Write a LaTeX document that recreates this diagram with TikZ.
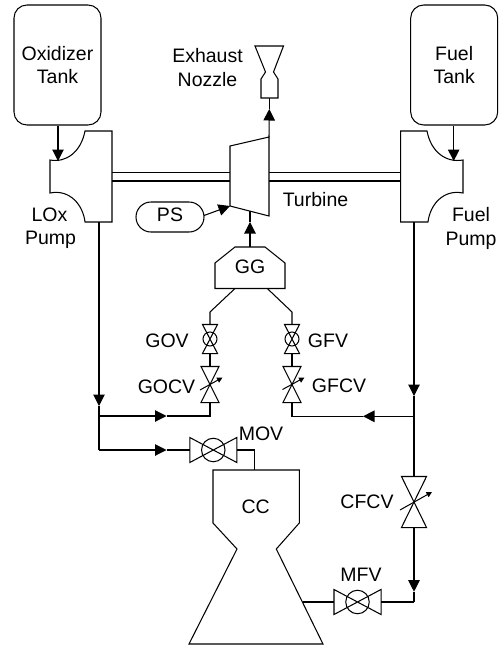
\documentclass[tikz,border=0pt]{standalone}
\usepackage{fontspec}
\setmainfont{Liberation Sans}
\usetikzlibrary{arrows.meta,shapes.misc}
\tikzset{
  x=1pt,y=-1pt,
  every path/.style={line width=1.05pt,line join=miter},
  lbl/.style={anchor=base,inner sep=0pt,font=\fontsize{19.5}{23}\selectfont},
  tank/.style={draw,rounded corners=13pt,minimum width=87pt,minimum height=120pt,inner sep=0pt,align=center,font=\fontsize{19.5}{22.7}\selectfont},
  flow/.style={-{Triangle[length=11.5pt,width=11.5pt]}},
  smallflow/.style={-{Triangle[length=5.5pt,width=5.5pt]},line width=1pt},
  bigvalve/.style={minimum width=46pt,minimum height=24pt,inner sep=0pt},
  gvalve/.style={minimum width=14pt,minimum height=28pt,inner sep=0pt},
  cvvalve/.style={minimum width=17pt,minimum height=35pt,inner sep=0pt},
  cfvalve/.style={minimum width=24pt,minimum height=50pt,inner sep=0pt},
  ball/.style={draw,circle,inner sep=0pt},
}
\begin{document}
\begin{tikzpicture}
\useasboundingbox (0,0) rectangle (503,646);
% tanks
\node[tank] (ox) at (57.5,65) {Oxidizer\\Tank};
\node[tank] (fu) at (454.2,65) {Fuel\\Tank};
% pumps
\coordinate (loxin) at (58,161);
\coordinate (fuin) at (453.7,161);
\draw (85,131) -- (112,131) -- (112,222) coordinate (loxbr) -- (85,222)
  .. controls (83,205) and (70,189) .. (50,193) -- (50,160)
  .. controls (66,163) and (81,152) .. (85,131) -- cycle;
\draw (427,131) -- (400.7,131) -- (400.7,222) -- (428,222)
  .. controls (430,205) and (443,189) .. (463,193) -- (463,160)
  .. controls (446,163) and (431,152) .. (427,131) -- cycle;
\draw[flow] (ox.south -| loxin) -- (loxin);
\draw[flow] (fu.south -| fuin) -- (fuin);
% turbine
\coordinate (ttl) at (230,146);
\coordinate (ttr) at (269,137);
\coordinate (tbr) at (269,216);
\coordinate (tbl) at (230,206);
\draw (ttl) -- (ttr) -- (tbr) -- (tbl) -- cycle;
\draw (112,172.5) -- (230,172.5);
\draw (112,181) -- (230,181);
\draw (269,172.5) -- (400.7,172.5);
\draw (269,181) -- (400.7,181);
% nozzle
\draw (255,46) -- (283.5,46) -- (273.5,72) -- (278,79) -- (278,98) coordinate (nbr) -- (261,98) -- (261,79) -- (265.5,72) -- cycle;
\coordinate (nb) at (269.3,98);
\coordinate (ntip) at (269.3,109);
\draw[flow] (ttr) -- (ntip);
\draw (ntip) -- (nb);
% PS
\node[draw,rounded rectangle,minimum width=68pt,minimum height=30pt,inner sep=0pt] (ps) at (170,217) {};
\coordinate (pstart) at (204,215.5);
\draw[flow] (pstart) -- (tbl);
% GG
\coordinate (gtl) at (235,247);
\coordinate (gtr) at (265,247);
\coordinate (gbl) at (235,288.5);
\coordinate (gbr) at (267.3,288.5);
\coordinate (gt) at (250,247);
\coordinate (gtip) at (250,222);
\coordinate (tb) at (250,211);
\draw (gtl) -- (gtr) -- (285,263) -- (285,288.5) -- (215,288.5) -- (215,263) -- cycle;
\draw[flow] (gt) -- (gtip);
\draw (gtip) -- (tb);
% GG valves
\node[gvalve] (gov) at (210,339) {};
\node[gvalve] (gfv) at (292,339) {};
\node[cvvalve] (gocv) at (210,384.5) {};
\node[cvvalve] (gfcv) at (292,384.5) {};
\foreach \v in {gov,gfv,gocv,gfcv}{
  \draw (\v.north west) -- (\v.north east) -- (\v.south west) -- (\v.south east) -- cycle;
}
\node[ball,minimum size=14pt] at (gov) {};
\node[ball,minimum size=14pt] at (gfv) {};
\draw[smallflow] (200,390) -- (222.5,377.5);
\draw[smallflow] (282.5,389.5) -- (304.5,377.5);
\draw (gbl) -- (gov.north |- 0,312) -- (gov.north);
\draw (gbr) -- (gfv.north |- 0,312) -- (gfv.north);
\draw (gov.south) -- (gocv.north);
\draw (gfv.south) -- (gfcv.north);
% oxidiser line
\coordinate (lo) at (99,222);
\coordinate (lotip) at (99,406);
\coordinate (lob) at (99,416);
\coordinate (lobot) at (99,450);
\coordinate (lar) at (166.5,416);
\coordinate (lgo) at (210,416);
\coordinate (mar) at (166.5,450);
\draw[flow] (lo) -- (lotip);
\draw (lotip) -- (lobot);
\draw[flow] (lob) -- (lar);
\draw (lar) -- (lgo) -- (gocv.south);
\draw[flow] (lobot) -- (mar);
% MOV
\node[bigvalve] (mov) at (213.3,450) {};
\draw (mov.north west) -- (mov.south east) -- (mov.north east) -- (mov.south west) -- cycle;
\node[ball,minimum size=23.5pt] at (mov) {};
\draw (mar) -- (mov.west);
% CC
\draw (213,470) -- (299.3,470) -- (299.3,523) -- (276.3,549) -- (323,644) -- (189,644) -- (237,549) -- (213,523) -- cycle;
\coordinate (cct) at (254.5,470);
\draw (mov.east) -- (cct |- mov.east) -- (cct);
% fuel line
\coordinate (fl) at (414,222);
\coordinate (fltip) at (414,396);
\coordinate (flb) at (414,416.3);
\coordinate (fbr) at (363,416.3);
\coordinate (fgo) at (292,416.3);
\node[cfvalve] (cfcv) at (414,502) {};
\draw (cfcv.north west) -- (cfcv.north east) -- (cfcv.south west) -- (cfcv.south east) -- cycle;
\draw[smallflow] (400,510) -- (432,492);
\draw[flow] (fl) -- (fltip);
\draw (fltip) -- (cfcv.north);
\draw[flow] (flb) -- (fbr);
\draw (fbr) -- (fgo) -- (gfcv.south);
\coordinate (mtip) at (414,591.7);
\coordinate (mc) at (414,602);
\draw[flow] (cfcv.south) -- (mtip);
\draw (mtip) -- (mc);
% MFV
\node[bigvalve] (mfv) at (357.5,602) {};
\draw (mfv.north west) -- (mfv.south east) -- (mfv.north east) -- (mfv.south west) -- cycle;
\node[ball,minimum size=23.5pt] at (mfv) {};
\draw (mc) -- (mfv.east);
\coordinate (ccr) at (303,602);
\draw (mfv.west) -- (ccr);
% labels
\node[lbl] (t1) at (207.5,62) {Exhaust};
\node[lbl] (t2) at (207.5,86) {Nozzle};
\node[lbl] (t3) at (49.5,221.5) {LOx};
\node[lbl] (t4) at (50.5,244.5) {Pump};
\node[lbl] (t5) at (471,221) {Fuel};
\node[lbl] (t6) at (471,245) {Pump};
\node[lbl] (t7) at (315.5,206.5) {Turbine};
\node[lbl] (t8) at (170,221.5) {PS};
\node[lbl] (t9) at (250,273) {GG};
\node[lbl] (t10) at (167,347.5) {GOV};
\node[lbl] (t11) at (166.5,393) {GOCV};
\node[lbl] (t12) at (328,347.5) {GFV};
\node[lbl] (t13) at (339,392.5) {GFCV};
\node[lbl] (t14) at (261,440) {MOV};
\node[lbl] (t15) at (367,508) {CFCV};
\node[lbl] (t16) at (361,581.5) {MFV};
\node[lbl] (t17) at (255.7,513) {CC};
\end{tikzpicture}
\end{document}
